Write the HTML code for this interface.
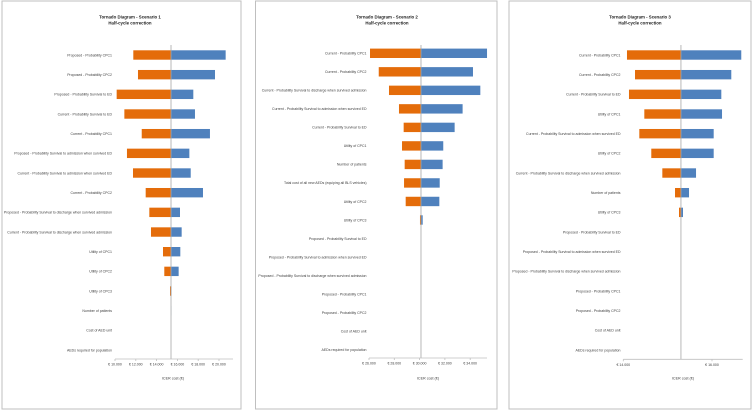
<!DOCTYPE html>
<html><head><meta charset="utf-8">
<style>
html,body{margin:0;padding:0;background:#fff;width:753px;height:411px;overflow:hidden}
svg{display:block;font-family:"Liberation Sans",sans-serif}
</style></head>
<body>
<svg id="chart" width="753" height="411" viewBox="0 0 753 411" xmlns="http://www.w3.org/2000/svg"></svg>
<script>
// ---- Scenario 1 data ----
const labels1 = ["Proposed - Probability CPC1","Proposed - Probability CPC2","Proposed - Probability Survival to ED","Current - Probability Survival to ED","Current - Probability CPC1","Proposed - Probability Survival to admission when survived ED","Current - Probability Survival to admission when survived ED","Current - Probability CPC2","Proposed - Probability Survival to discharge when survived admission","Current - Probability Survival to discharge when survived admission","Utility of CPC1","Utility of CPC2","Utility of CPC3","Number of patients","Cost of AED unit","AEDs required for population"];
const low1 = [11760,12210,10160,10900,12570,11150,11730,12950,13300,13460,14615,14740,15290,15385,15385,15385];
const high1 = [20640,19615,17530,17690,19130,17150,17280,18460,16250,16410,16280,16120,15430,15400,15385,15385];
const base1 = 15385;
const ticks1 = [10000,12000,14000,16000,18000,20000];
const tickLabels1 = ["€ 10.000","€ 12.000","€ 14.000","€ 16.000","€ 18.000","€ 20.000"];
// ---- Scenario 2 data ----
const labels2 = ["Current - Probability CPC1","Current - Probability CPC2","Current - Probability Survival to discharge when survived admission","Current - Probability Survival to admission when survived ED","Current - Probability Survival to ED","Utility of CPC1","Number of patients","Total cost of all new AEDs (equiping all BLS vehicles)","Utility of CPC2","Utility of CPC3","Proposed - Probability Survival to ED","Proposed - Probability Survival to admission when survived ED","Proposed - Probability Survival to discharge when survived admission","Proposed - Probability CPC1","Proposed - Probability CPC2","Cost of AED unit","AEDs required for population"];
const low2 = [26080,26770,27580,28370,28740,28610,28820,28770,28900,30030,30110,30110,30110,30110,30110,30110,30110];
const high2 = [35330,34220,34800,33400,32770,31870,31820,31590,31560,30245,30110,30110,30110,30110,30110,30110,30110];
const base2 = 30110;
const ticks2 = [26000,28000,30000,32000,34000];
const tickLabels2 = ["€ 26.000","€ 28.000","€ 30.000","€ 32.000","€ 34.000"];
// ---- Scenario 3 data ----
const labels3 = ["Current - Probability CPC1","Current - Probability CPC2","Current - Probability Survival to ED","Utility of CPC1","Current - Probability Survival to admission when survived ED","Utility of CPC2","Current - Probability Survival to discharge when survived admission","Number of patients","Utility of CPC3","Proposed - Probability Survival to ED","Proposed - Probability Survival to admission when survived ED","Proposed - Probability Survival to discharge when survived admission","Proposed - Probability CPC1","Proposed - Probability CPC2","Cost of AED unit","AEDs required for population"];
const low3 = [14083,14264,14128,14474,14361,14631,14880,15166,15256,15300,15300,15300,15300,15300,15300,15300];
const high3 = [16660,16435,16210,16226,16038,16038,15640,15482,15346,15300,15300,15300,15300,15300,15300,15300];
const base3 = 15300;
const ticks3 = [14000,16000];
const tickLabels3 = ["€ 14.000","€ 16.000"];

const svg = document.getElementById('chart');
const NS = 'http://www.w3.org/2000/svg';
function mk(tag, attrs, parent){const e=document.createElementNS(NS,tag);for(const k in attrs)e.setAttribute(k,attrs[k]);(parent||svg).appendChild(e);return e;}
function squeeze(t){try{const w=t.getComputedTextLength();if(w>0){t.setAttribute('textLength',(w*0.95).toFixed(2));t.setAttribute('lengthAdjust','spacingAndGlyphs');}}catch(e){}}

const panels = [
 {n:1,labels:labels1,low:low1,high:high1,base:base1,ticks:ticks1,tl:tickLabels1,box:[2,1,239,408],x0:115,x1:233,d0:10000,pxPer:0.0104,y0:55,step:19.67,axisY:359,labX:112,titleX:130,xtX:173},
 {n:2,labels:labels2,low:low2,high:high2,base:base2,ticks:ticks2,tl:tickLabels2,box:[255.5,1,241.5,408],x0:369,x1:487,d0:26000,pxPer:0.01265,y0:53.3,step:18.52,axisY:358,labX:366.5,titleX:387,xtX:428},
 {n:3,labels:labels3,low:low3,high:high3,base:base3,ticks:ticks3,tl:tickLabels3,box:[509,1,242,408],x0:623.3,x1:742.7,d0:14000,pxPer:0.04435,y0:55,step:19.67,axisY:359.3,labX:620.5,titleX:640,xtX:683}
];

panels.forEach(p=>{
  const g = mk('g',{});
  
  
  const xs = v => p.x0 + (v - p.d0)*p.pxPer;
  const frame = mk('rect',{x:p.box[0],y:p.box[1],width:p.box[2],height:p.box[3],fill:'#fff',stroke:'#bfbfbf','stroke-width':1},g);
  
  
  const t1 = mk('text',{x:p.titleX,y:18.5,'font-size':4.6,'font-weight':'bold','text-anchor':'middle',fill:'#222'},g);
  t1.textContent='Tornado Diagram - Scenario '+p.n;
  
  
  const t2 = mk('text',{x:p.titleX,y:24.5,'font-size':4.6,'font-weight':'bold','text-anchor':'middle',fill:'#222'},g);
  t2.textContent='Half-cycle correction';
  
  
  squeeze(t1); squeeze(t2);
  const cx = xs(p.base);
  p.labels.forEach((lab,i)=>{
    const y = p.y0 + i*p.step;
    const tx = mk('text',{x:p.labX,y:y+1.3,'font-size':3.7,'text-anchor':'end',fill:'#404040'},g);
    tx.textContent = lab;
    
    
    squeeze(tx);
    const lx = xs(p.low[i]);
    if (cx - lx > 0.05){
      const r = mk('rect',{x:lx,y:y-4.7,width:cx-lx,height:9.4,fill:'#E46C0A'},g);
      
      
    }
    const hx = xs(p.high[i]);
    if (hx - cx > 0.05){
      const r = mk('rect',{x:cx,y:y-4.7,width:hx-cx,height:9.4,fill:'#4F81BD'},g);
      
      
    }
  });
  const bl = mk('line',{x1:cx,x2:cx,y1:45,y2:p.axisY,stroke:'#a6a6a6','stroke-width':0.8},g);
  
  
  const ax = mk('line',{x1:p.x0,x2:p.x1,y1:p.axisY,y2:p.axisY,stroke:'#bfbfbf','stroke-width':0.8},g);
  
  
  p.ticks.forEach((tv,j)=>{
    const x = xs(tv);
    const tk = mk('line',{x1:x,x2:x,y1:p.axisY,y2:p.axisY+2,stroke:'#bfbfbf','stroke-width':0.8},g);
    
    
    const tt = mk('text',{x:x,y:p.axisY+6.5,'font-size':3.7,'text-anchor':'middle',fill:'#404040'},g);
    tt.textContent = p.tl[j];
    
    
    squeeze(tt);
  });
  const xt = mk('text',{x:p.xtX,y:379.5,'font-size':3.9,'text-anchor':'middle',fill:'#404040'},g);
  xt.textContent = 'ICER cost (€)';
  
  
  squeeze(xt);
});
</script>
</body></html>
